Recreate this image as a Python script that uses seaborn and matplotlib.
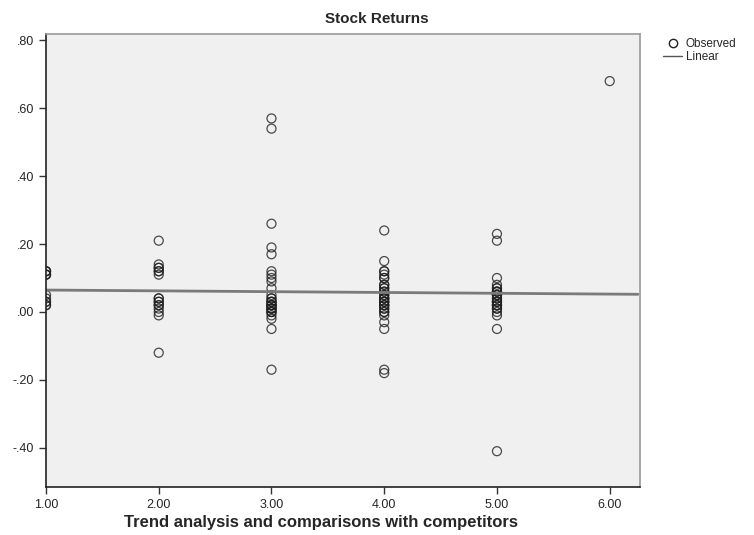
import matplotlib
matplotlib.use("Agg")
import matplotlib.pyplot as plt
import numpy as np
import pandas as pd
import seaborn as sns
from matplotlib.lines import Line2D
from matplotlib.ticker import FuncFormatter

# values, grouped by x value (overlapping points repeated)
ret_1 = [0.12, 0.12, 0.12, 0.11, 0.11, 0.11, 0.05, 0.04, 0.03, 0.03, 0.02, 0.02]
ret_2 = [0.21, 0.14, 0.13, 0.13, 0.12, 0.12, 0.11, 0.04, 0.04, 0.03, 0.03,
         0.02, 0.02, 0.01, 0.00, -0.01, -0.12]
ret_3 = [0.57, 0.54, 0.26, 0.19, 0.17, 0.12, 0.11, 0.10, 0.09, 0.07, 0.05,
         0.04, 0.04, 0.03, 0.03, 0.03, 0.02, 0.02, 0.02, 0.02, 0.01, 0.01,
         0.01, 0.01, 0.00, 0.00, 0.00, -0.01, -0.02, -0.05, -0.17]
ret_4 = [0.24, 0.15, 0.12, 0.12, 0.11, 0.10, 0.10, 0.08, 0.08, 0.07, 0.07,
         0.06, 0.06, 0.05, 0.05, 0.04, 0.04, 0.04, 0.03, 0.03, 0.03, 0.02,
         0.02, 0.02, 0.01, 0.01, 0.00, 0.00, -0.01, -0.03, -0.05, -0.17, -0.18]
ret_5 = [0.23, 0.21, 0.10, 0.08, 0.07, 0.07, 0.06, 0.06, 0.06, 0.05, 0.05,
         0.05, 0.04, 0.04, 0.03, 0.03, 0.03, 0.02, 0.02, 0.02, 0.01, 0.01,
         0.00, -0.01, -0.05, -0.41]
ret_6 = [0.68]

groups = [1.0, 2.0, 3.0, 4.0, 5.0, 6.0]
returns = [ret_1, ret_2, ret_3, ret_4, ret_5, ret_6]

frame = pd.DataFrame({
    "trend": np.concatenate([[g] * len(r) for g, r in zip(groups, returns)]),
    "returns": np.concatenate(returns),
})

sns.set_style("white")
plt.rcParams["font.family"] = ["Liberation Sans", "DejaVu Sans"]

fig = plt.figure(figsize=(7.54, 5.35), dpi=100)
ax = fig.add_axes([0.061, 0.09, 0.788, 0.846])
ax.set_facecolor("#f0f0f0")

sns.regplot(
    data=frame, x="trend", y="returns", ax=ax, ci=None, truncate=False,
    scatter_kws={"s": 42, "facecolors": "none", "edgecolors": "#202020", "linewidths": 0.9},
    line_kws={"color": "#7a7a7a", "linewidth": 2},
)

ax.set_xlim(1.0, 6.27)
ax.set_ylim(-0.515, 0.818)
ax.set_xticks(groups)
ax.xaxis.set_major_formatter(FuncFormatter(lambda v, p: f"{v:.2f}"))
ax.set_yticks([-0.4, -0.2, 0.0, 0.2, 0.4, 0.6, 0.8])
ax.yaxis.set_major_formatter(
    FuncFormatter(lambda v, p: f"{v:.2f}".replace("0.", ".") if abs(v) > 1e-9 else ".00"))
ax.tick_params(axis="both", direction="out", length=5, width=1, labelsize=9,
               bottom=True, left=True, color="#333333")
for side in ["left", "bottom"]:
    ax.spines[side].set_color("#222222")
    ax.spines[side].set_linewidth(1.2)
for side in ["top", "right"]:
    ax.spines[side].set_color("#9a9a9a")
    ax.spines[side].set_linewidth(1.2)

ax.set_xlabel("Trend analysis and comparisons with competitors", fontsize=12,
              fontweight="bold")
ax.xaxis.set_label_coords(0.463, -0.062)
ax.set_ylabel("")
fig.suptitle("Stock Returns", x=0.5, y=0.978, fontsize=11, fontweight="bold")

handles = [
    Line2D([], [], marker="o", linestyle="none", markerfacecolor="none",
           markeredgecolor="#202020", markersize=6, label="Observed"),
    Line2D([], [], color="#555555", linewidth=1, label="Linear"),
]
fig.legend(handles=handles, loc="upper left", bbox_to_anchor=(0.872, 0.94),
           frameon=False, fontsize=8.5, handlelength=1.6, labelspacing=0.1,
           handletextpad=0.3, borderpad=0)

fig.savefig("out.png", dpi=100)
